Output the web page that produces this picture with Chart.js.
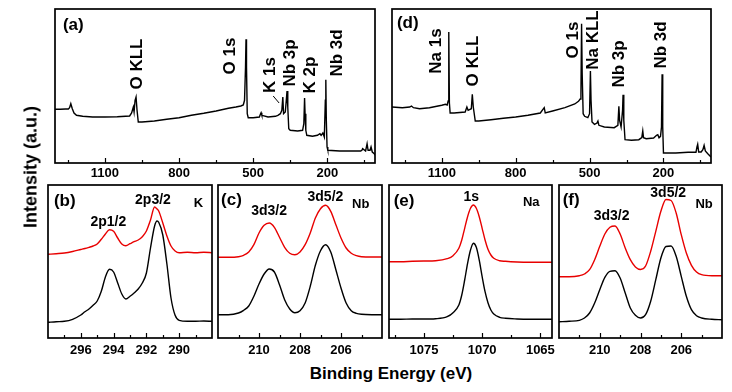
<!DOCTYPE html>
<html>
<head>
<meta charset="utf-8">
<script src="https://cdn.jsdelivr.net/npm/chart.js@4.4.1/dist/chart.umd.min.js"></script>
<style>
  html, body { margin: 0; padding: 0; background: #fff; overflow: hidden; }
  #fig { position: relative; width: 732px; height: 392px; }
  #fig canvas { position: absolute; }
  .titulo { position: absolute; font: bold 17px Arial, "Liberation Sans", sans-serif; color: #000; white-space: nowrap; }
  #ytit { left: 31px; top: 167px; font-size: 18px; transform: translate(-50%, -50%) rotate(-90deg); }
  #xtit { left: 391px; top: 374px; transform: translate(-50%, -50%); }
</style>
</head>
<body>
<div id="fig">
  <canvas id="pa"></canvas>
  <canvas id="pd"></canvas>
  <canvas id="pb"></canvas>
  <canvas id="pc"></canvas>
  <canvas id="pe"></canvas>
  <canvas id="pf"></canvas>
  <div class="titulo" id="ytit">Intensity (a.u.)</div>
  <div class="titulo" id="xtit">Binding Energy (eV)</div>
</div>
<script>
const FUENTE = 'Arial, "Liberation Sans", sans-serif';
const ROJO = 'rgb(232,0,0)';

// (a) espectro general, muestra K
const energiaA = [1302, 1280, 1260, 1248, 1243, 1238, 1232, 1225, 1215, 1190, 1150, 1100, 1050, 1000, 992, 985, 982, 978, 974, 970, 965, 950, 900, 850, 800, 750, 700, 650, 600, 570, 550, 540, 535, 531, 529, 527, 524, 520, 500, 475, 470, 468, 465, 440, 410, 400, 390, 384, 380, 377, 370, 366, 363, 360, 356, 350, 320, 300, 295, 292, 290, 287, 283, 260, 240, 230, 225, 218, 212, 208, 206, 204, 201, 198, 150, 100, 65, 60, 57, 45, 39, 35, 27, 23, 18, 10, 7];
const intensidadA = [53.7, 53.7, 54, 54, 55.3, 59.3, 54.3, 50, 47.7, 46.7, 46, 46, 46.3, 47, 50, 56, 51, 62.7, 66, 52.7, 41, 41, 42, 43.7, 45.3, 47.7, 49.7, 52, 54.7, 56, 57, 58, 62.7, 96, 123.7, 96, 49.3, 45.3, 45.3, 46, 49.3, 50.3, 47.7, 46, 46.7, 47.7, 49.3, 52.7, 66, 49.3, 51, 62.7, 72, 56, 34.3, 32.7, 32, 32.7, 39.3, 65, 49.3, 32.7, 27.7, 26.7, 27.7, 29.3, 27.7, 30, 26, 62.7, 83.3, 42.7, 16, 12.7, 12, 12, 12, 12.7, 14.3, 12, 19.3, 12.7, 12.7, 16, 11, 9.3, 7.7];

// (d) espectro general, muestra Na
const energiaD = [1302, 1260, 1230, 1223, 1215, 1190, 1150, 1100, 1085, 1078, 1074, 1071.5, 1069, 1066, 1050, 1005, 998, 993, 980, 976, 972, 964, 950, 900, 850, 800, 750, 700, 684, 680, 650, 600, 560, 545, 538, 535, 532.4, 530, 526, 520, 507, 500, 496.5, 494, 490, 480, 470, 466, 462, 440, 400, 385, 381, 378, 372, 366, 364, 361, 356, 330, 300, 288, 284, 281, 270, 240, 228, 223, 218, 212, 208, 205.5, 203, 200, 150, 100, 68, 64, 61, 57, 47, 40, 35, 30, 20, 7];
const intensidadD = [56, 55.3, 56, 57, 55.3, 54.3, 55.3, 57.7, 58.7, 58, 62, 131, 60, 50, 50, 51, 56, 52.7, 54.3, 68.7, 56, 42, 42, 43.3, 44.7, 46, 47.7, 50, 55.3, 50, 52, 55.3, 59, 61.7, 64, 70, 139.3, 90, 49.3, 46.7, 45.3, 49.3, 92, 62.7, 41, 38.7, 40, 42, 37.7, 36, 35.3, 37.7, 56.7, 42.7, 36, 52.7, 68.3, 42.7, 23.3, 22.7, 23.3, 25.3, 32, 25.3, 24.3, 25, 27.7, 28.3, 25.3, 26.7, 36, 88.7, 36, 10, 10, 10.7, 10.7, 16, 18.7, 11, 11, 13.3, 17.7, 12, 9.3, 6];

// (b) K 2p
const energiaK = [298, 297.5, 297, 296.5, 296, 295.75, 295.5, 295.25, 295, 294.75, 294.5, 294.25, 294, 293.75, 293.5, 293.25, 293, 292.75, 292.5, 292.25, 292, 291.75, 291.5, 291.35, 291.25, 291, 290.75, 290.5, 290.25, 290, 289.5, 289, 288.5, 288];
const rojoK = [83.7, 84.3, 85, 86.5, 88.5, 89.5, 90.7, 92, 94, 98.7, 104, 108.3, 106.7, 100, 94, 92.3, 94.3, 96.3, 98, 101.3, 107, 118, 131, 129, 127, 115, 102, 92, 87, 85.3, 85.7, 85.3, 85.7, 85.3];
const negroK = [15.7, 16.3, 16.7, 18.7, 23, 26.3, 29, 32.7, 37, 46.7, 61, 68.7, 66, 55, 44, 39, 41.7, 45, 49, 55, 65, 90, 112, 117, 115.7, 103, 74, 40, 22.7, 17.7, 16.7, 16.7, 17, 16.7];

// (c) y (f) Nb 3d
const energiaNb = [212, 211.5, 211, 210.75, 210.5, 210.25, 210, 209.75, 209.5, 209.25, 209, 208.75, 208.5, 208.25, 208, 207.75, 207.5, 207.25, 207, 206.75, 206.5, 206.25, 206, 205.75, 205.5, 205.25, 205, 204.5, 204];
const rojoNbC = [80.7, 80.7, 81.3, 82.7, 86, 93.3, 105, 112.7, 115, 110.7, 100.7, 90.7, 84.7, 83.3, 86, 93.3, 105, 120, 129.3, 132.7, 126.7, 113.3, 100, 90, 84.7, 82.3, 81.3, 81, 81];
const negroNbC = [23.3, 23.3, 25, 27.7, 32, 41.7, 54, 64, 69, 66, 53.3, 38.3, 29, 25.3, 27.3, 35, 51.7, 72.7, 87.3, 93.3, 86, 68.3, 50, 35, 27.3, 24.7, 23.7, 23.3, 23.3];
const rojoNbF = [61.3, 61.3, 62.3, 64, 68.3, 78.3, 91.7, 104, 110.7, 112, 104, 90, 78.3, 71, 68.5, 72, 86.7, 106.7, 126.7, 138.5, 137.5, 125, 103.3, 85, 72.7, 66, 63.3, 62.3, 62.3];
const negroNbF = [16.3, 16.7, 17.7, 20, 25, 35, 48.3, 60.7, 66.7, 67.3, 60, 45, 30, 22.7, 20, 23.3, 36.7, 58.3, 80, 91.5, 92, 81.7, 61.7, 41.7, 28.3, 22.3, 20, 18.7, 18.3];

// (e) Na 1s
const energiaNa = [1078, 1077, 1076, 1075, 1074, 1073, 1072.5, 1072, 1071.75, 1071.5, 1071.25, 1071, 1070.75, 1070.5, 1070.25, 1070, 1069.75, 1069.5, 1069.25, 1069, 1068.5, 1068, 1067, 1066, 1065, 1064];
const rojoNa = [76.3, 76.3, 76.7, 77, 77.3, 79.3, 82.3, 89.7, 98, 109.7, 121.3, 129.7, 133, 129.7, 121.3, 109.7, 98, 88.7, 83, 79.7, 77.3, 76.7, 76, 75.7, 75.7, 75.7];
const negroNa = [18.7, 18.7, 19, 19, 19.3, 21.3, 25.3, 33, 43, 58, 74.7, 88, 94.7, 90.7, 78, 61.3, 46.3, 35.3, 28, 24, 20.7, 19.7, 19, 18.7, 18.7, 18.7];

// marcas del eje x
const ticksSurvey = [1100, 800, 500, 200];
const menoresSurvey = [1250, 950, 650, 350, 50];
const ticksK = [296, 294, 292, 290];
const menoresK = [297, 295, 293, 291, 289];
const ticksNb = [210, 208, 206];
const menoresNb = [211, 209, 207, 205];
const ticksNa = [1075, 1070, 1065];
const menoresNa = [1077.5, 1072.5, 1067.5];

function puntos(xs, ys) {
  return xs.map((x, i) => ({ x: x, y: ys[i] }));
}

// marco, marcas hacia dentro y etiquetas de los picos
const marco = {
  id: 'marco',
  afterDatasetsDraw(chart, args, opts) {
    const ctx = chart.ctx, a = chart.chartArea;
    const sx = chart.scales.x, sy = chart.scales.y;
    ctx.save();
    ctx.strokeStyle = '#000';
    ctx.lineWidth = 1.2;
    const marca = (v, largo) => {
      const px = Math.round(sx.getPixelForValue(v)) + 0.5;
      ctx.beginPath(); ctx.moveTo(px, a.bottom); ctx.lineTo(px, a.bottom - largo); ctx.stroke();
    };
    opts.mayores.forEach(v => marca(v, 5));
    opts.menores.forEach(v => marca(v, 3));
    ctx.lineWidth = 1.7;
    ctx.strokeRect(a.left, a.top, a.right - a.left, a.bottom - a.top);
    ctx.fillStyle = '#000';
    ctx.textBaseline = 'middle';
    opts.notas.forEach(n => {
      const px = sx.getPixelForValue(n.x), py = sy.getPixelForValue(n.y);
      ctx.font = 'bold ' + n.size + 'px ' + FUENTE;
      if (n.rot) {
        ctx.save();
        ctx.translate(px, py);
        ctx.rotate(-Math.PI / 2);
        ctx.textAlign = 'center';
        ctx.fillText(n.t, 0, 0);
        ctx.restore();
      } else {
        ctx.textAlign = n.align || 'center';
        ctx.fillText(n.t, px, py);
      }
    });
    ctx.lineWidth = 1;
    (opts.flechas || []).forEach(f => {
      ctx.beginPath();
      ctx.moveTo(sx.getPixelForValue(f[0]), sy.getPixelForValue(f[1]));
      ctx.lineTo(sx.getPixelForValue(f[2]), sy.getPixelForValue(f[3]));
      ctx.stroke();
    });
    ctx.restore();
  }
};

function panel(id, caja, rango, series, mayores, menores, notas, flechas, padTick) {
  const cv = document.getElementById(id);
  const lado = 10, arriba = 4, abajo = 24;
  cv.width = caja.w + 2 * lado;
  cv.height = caja.h + arriba + abajo;
  cv.style.left = (caja.l - lado) + 'px';
  cv.style.top = (caja.t - arriba) + 'px';
  new Chart(cv, {
    type: 'line',
    data: {
      datasets: series.map(s => ({
        data: puntos(s.x, s.y),
        borderColor: s.color,
        borderWidth: 1.4,
        pointRadius: 0,
        fill: false,
        cubicInterpolationMode: s.suave ? 'monotone' : 'default',
        tension: 0
      }))
    },
    options: {
      responsive: false,
      animation: false,
      devicePixelRatio: 1,
      layout: { padding: { left: lado, right: lado, top: arriba, bottom: 0 } },
      plugins: {
        legend: { display: false },
        tooltip: { enabled: false },
        marco: { mayores: mayores, menores: menores, notas: notas, flechas: flechas }
      },
      scales: {
        x: {
          type: 'linear',
          reverse: true,
          min: rango[0],
          max: rango[1],
          afterFit: s => { s.height = abajo; },
          afterBuildTicks: s => { s.ticks = mayores.map(v => ({ value: v })); },
          grid: { display: false, drawTicks: false },
          border: { display: false },
          ticks: {
            padding: padTick,
            color: '#000',
            maxRotation: 0,
            autoSkip: false,
            font: { family: FUENTE, size: 13, weight: 'bold' },
            callback: v => String(v)
          }
        },
        y: { display: false, min: 0, max: caja.h }
      }
    },
    plugins: [marco]
  });
}

panel('pa', { l: 55, t: 9, w: 320, h: 154 }, [7, 1302],
  [{ x: energiaA, y: intensidadA, color: '#000' }],
  ticksSurvey, menoresSurvey,
  [
    { t: '(a)', x: 1270, y: 137.5, size: 17, align: 'left' },
    { t: 'O KLL', x: 970, y: 99, size: 17, rot: true },
    { t: 'O 1s', x: 593, y: 107, size: 17, rot: true },
    { t: 'K 1s', x: 431, y: 88, size: 17, rot: true },
    { t: 'Nb 3p', x: 350, y: 100, size: 17, rot: true },
    { t: 'K 2p', x: 269, y: 88, size: 17, rot: true },
    { t: 'Nb 3d', x: 159.5, y: 110, size: 17, rot: true }
  ],
  [[419, 67, 395, 60]], 2.5);

panel('pd', { l: 392, t: 9, w: 319, h: 154 }, [7, 1302],
  [{ x: energiaD, y: intensidadD, color: '#000' }],
  ticksSurvey, menoresSurvey,
  [
    { t: '(d)', x: 1282, y: 139.5, size: 17, align: 'left' },
    { t: 'Na 1s', x: 1121.5, y: 112, size: 17, rot: true },
    { t: 'O KLL', x: 971.5, y: 102, size: 17, rot: true },
    { t: 'O 1s', x: 567.7, y: 123, size: 17, rot: true },
    { t: 'Na KLL', x: 486.6, y: 123, size: 17, rot: true },
    { t: 'Nb 3p', x: 378.4, y: 99, size: 17, rot: true },
    { t: 'Nb 3d', x: 209.4, y: 118, size: 17, rot: true }
  ],
  [], 2.5);

panel('pb', { l: 48, t: 185, w: 164, h: 153 }, [288, 298],
  [{ x: energiaK, y: rojoK, color: ROJO, suave: true }, { x: energiaK, y: negroK, color: '#000', suave: true }],
  ticksK, menoresK,
  [
    { t: '(b)', x: 297.64, y: 136.5, size: 17, align: 'left' },
    { t: '2p1/2', x: 294.32, y: 116.3, size: 14 },
    { t: '2p3/2', x: 291.6, y: 138, size: 14 },
    { t: 'K', x: 288.82, y: 135, size: 13 }
  ],
  [], 4.2);

panel('pc', { l: 218, t: 185, w: 164, h: 153 }, [204, 212],
  [{ x: energiaNb, y: rojoNbC, color: ROJO, suave: true }, { x: energiaNb, y: negroNbC, color: '#000', suave: true }],
  ticksNb, menoresNb,
  [
    { t: '(c)', x: 211.85, y: 138, size: 17, align: 'left' },
    { t: '3d3/2', x: 209.51, y: 127.3, size: 14 },
    { t: '3d5/2', x: 206.76, y: 141, size: 14 },
    { t: 'Nb', x: 205.04, y: 133.3, size: 13 }
  ],
  [], 4.2);

panel('pe', { l: 389, t: 185, w: 163, h: 153 }, [1064, 1078],
  [{ x: energiaNa, y: rojoNa, color: ROJO, suave: true }, { x: energiaNa, y: negroNa, color: '#000', suave: true }],
  ticksNa, menoresNa,
  [
    { t: '(e)', x: 1077.6, y: 136.5, size: 17, align: 'left' },
    { t: '1s', x: 1070.94, y: 140.7, size: 14 },
    { t: 'Na', x: 1065.78, y: 135.3, size: 13 }
  ],
  [], 4.2);

panel('pf', { l: 559, t: 185, w: 163, h: 153 }, [204, 212],
  [{ x: energiaNb, y: rojoNbF, color: ROJO, suave: true }, { x: energiaNb, y: negroNbF, color: '#000', suave: true }],
  ticksNb, menoresNb,
  [
    { t: '(f)', x: 211.82, y: 138, size: 17, align: 'left' },
    { t: '3d3/2', x: 209.42, y: 121.7, size: 14 },
    { t: '3d5/2', x: 206.64, y: 145, size: 14 },
    { t: 'Nb', x: 204.88, y: 133.3, size: 13 }
  ],
  [], 4.2);
</script>
</body>
</html>
